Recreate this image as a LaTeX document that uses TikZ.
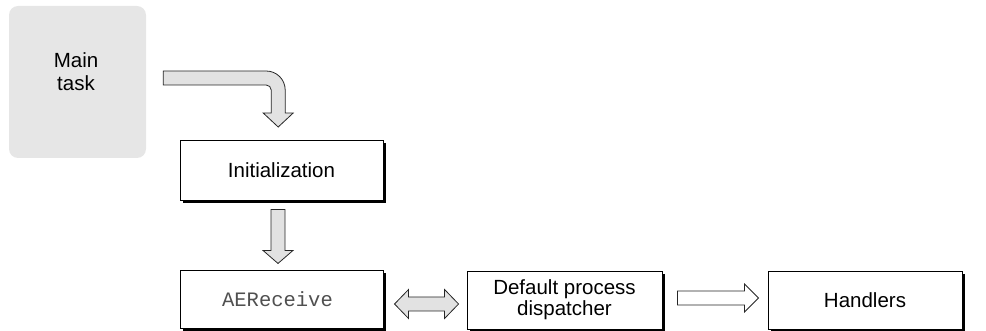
\documentclass[tikz,border=0pt]{standalone}
\usepackage{fontspec}
\setmainfont{Liberation Sans}
\setmonofont{Liberation Mono}
\usetikzlibrary{calc,shadows}
\definecolor{boxgray}{HTML}{E6E6E6}
\definecolor{arrowgray}{HTML}{E2E2E2}
\definecolor{codegray}{HTML}{505050}
\begin{document}
\begin{tikzpicture}[x=1pt,y=-1pt,
  txt/.style={font=\fontsize{20.5}{23}\selectfont, align=center},
  mainbox/.style={fill=boxgray, rounded corners=9pt, minimum width=137pt, minimum height=152pt, inner sep=0pt},
  procbox/.style={draw=black, line width=0.9pt, fill=white, minimum width=#1, minimum height=58pt,
    inner sep=0pt, align=center, font=\fontsize{20.5}{21}\selectfont,
    general shadow={fill=black, shadow xshift=2.6pt, shadow yshift=-2.6pt}},
  blockarrow/.style={draw=black!85, line width=0.8pt, fill=arrowgray, line join=miter},
  openarrow/.style={draw=black!85, line width=0.8pt, fill=white, line join=miter}
]
\useasboundingbox (0,0) rectangle (986,331);

% nodes
\node[mainbox] (main) at (77.5,82) {};
\node[txt] (maintext) at (76,72) {Main\\task};
\node[procbox=203pt, minimum height=60pt] (init) at (281.5,170) {Initialization};
\node[procbox=203pt, font=\fontsize{20.5}{22}\ttfamily, text=codegray] (aer) at (281.5,299) {\hspace*{-8pt}AEReceive};
\node[procbox=195pt] (dpd) at (564.5,300) {Default process\\dispatcher};
\node[procbox=194pt] (hand) at (865,300) {Handlers};

% curved block arrow: Main task -> Initialization
\begin{scope}[shift={(main.east)}]
  \draw[blockarrow] (17,-11) -- (120,-11)
    .. controls (130.5,-11) and (139,-2.5) .. (139,8)
    -- (139,31) -- (147,31) -- (132,45) -- (117,31) -- (125,31) -- (125,8)
    .. controls (125,5.24) and (122.76,3) .. (120,3)
    -- (17,3) -- cycle;
\end{scope}

% down block arrow: Initialization -> AEReceive
\begin{scope}[shift={(init.south)}]
  \draw[blockarrow] (-10.5,9) -- (3.5,9) -- (3.5,50) -- (11.5,50) -- (-3.5,63)
    -- (-18.5,50) -- (-10.5,50) -- cycle;
\end{scope}

% double block arrow: AEReceive <-> Default process dispatcher
\begin{scope}[shift={(dpd.west)}]
  \draw[blockarrow] (-72,4) -- (-58,-10.5) -- (-58,-3) -- (-22,-3) -- (-22,-10.5) -- (-8,4)
    -- (-22,18.5) -- (-22,11) -- (-58,11) -- (-58,18.5) -- cycle;
\end{scope}

% open block arrow: Default process dispatcher -> Handlers
\begin{scope}[shift={(dpd.east)}]
  \draw[openarrow] (15,-9) -- (82,-9) -- (82,-16) -- (96,-2) -- (82,12) -- (82,5)
    -- (15,5) -- cycle;
\end{scope}
\end{tikzpicture}
\end{document}
